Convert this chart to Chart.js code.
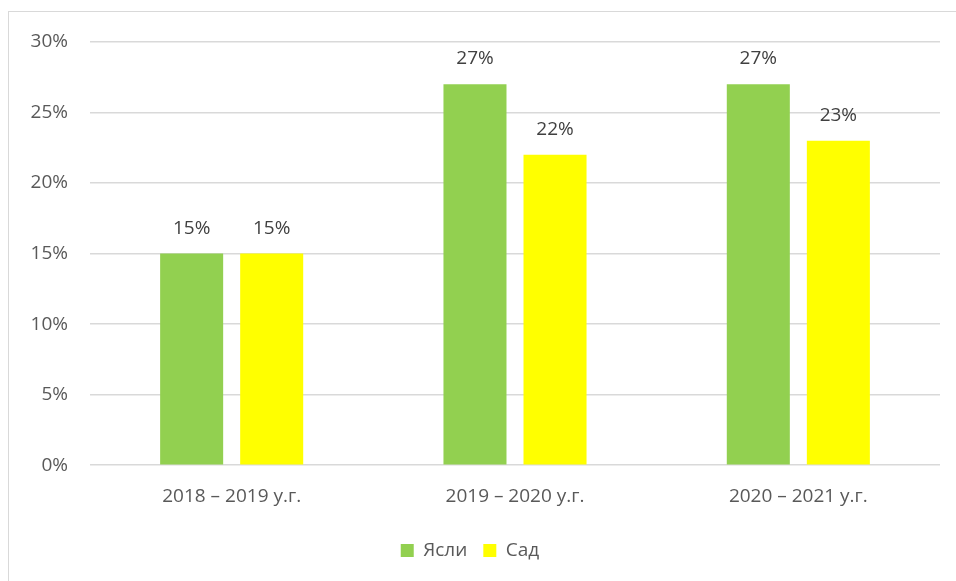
<!DOCTYPE html>
<html>
<head>
<meta charset="utf-8">
<script src="https://cdn.jsdelivr.net/npm/chart.js@4"></script>
<style>
    html, body { margin: 0; padding: 0; background: #fff; }
    .chart {
        position: absolute;
        left: 8px;
        top: 11px;
        width: 960px;
        height: 580px;
        border-left: 1px solid #d9d9d9;
        border-top: 1px solid #d9d9d9;
    }
    .chart canvas { position: absolute; left: -9px; top: -12px; }
</style>
</head>
<body>
<div class="chart">
    <canvas id="myChart" width="956" height="581"></canvas>
</div>

<script>
    const years = ['2018 – 2019 у.г.', '2019 – 2020 у.г.', '2020 – 2021 у.г.'];
    const yasli = [15, 27, 27];
    const sad = [15, 22, 23];
    const seriesNames = ['Ясли', 'Сад'];
    const seriesColors = ['#92D050', '#FFFF00'];

    const font = 'Open Sans';

    // подписи значений над столбцами
    const valueLabels = {
        id: 'valueLabels',
        afterDatasetsDraw(chart) {
            const ctx = chart.ctx;
            ctx.save();
            ctx.font = '19px "' + font + '"';
            ctx.fillStyle = '#404040';
            ctx.textAlign = 'center';
            ctx.textBaseline = 'bottom';
            chart.data.datasets.forEach((ds, i) => {
                chart.getDatasetMeta(i).data.forEach((bar, j) => {
                    ctx.fillText(ds.data[j] + '%', bar.x, bar.y - 16);
                });
            });
            ctx.restore();
        }
    };

    const ctx = document.getElementById('myChart').getContext('2d');
    const chart = new Chart(ctx, {
        type: 'bar',
        data: {
            labels: years,
            datasets: [
                { label: seriesNames[0], data: yasli, backgroundColor: seriesColors[0] },
                { label: seriesNames[1], data: sad, backgroundColor: seriesColors[1] }
            ]
        },
        options: {
            responsive: false,
            animation: false,
            categoryPercentage: 0.565,
            barPercentage: 0.7875,
            layout: { padding: { top: 42, right: 16, bottom: 11, left: 0 } },
            plugins: {
                legend: {
                    position: 'bottom',
                    labels: {
                        boxWidth: 13,
                        boxHeight: 13,
                        padding: 16,
                        color: '#595959',
                        font: { family: font, size: 19 }
                    }
                },
                tooltip: { enabled: false }
            },
            scales: {
                x: {
                    afterFit: scale => { scale.height += 5; },
                    grid: { display: false },
                    border: { display: false },
                    ticks: { color: '#595959', padding: 12, font: { family: font, size: 19 } }
                },
                y: {
                    min: 0,
                    max: 30,
                    afterFit: scale => { scale.width = 90; },
                    grid: { color: '#d9d9d9', lineWidth: 1.5, drawTicks: false },
                    border: { display: false },
                    ticks: {
                        stepSize: 5,
                        padding: 22,
                        color: '#595959',
                        font: { family: font, size: 19 },
                        callback: v => v + '%'
                    }
                }
            }
        },
        plugins: [valueLabels]
    });
</script>
</body>
</html>
